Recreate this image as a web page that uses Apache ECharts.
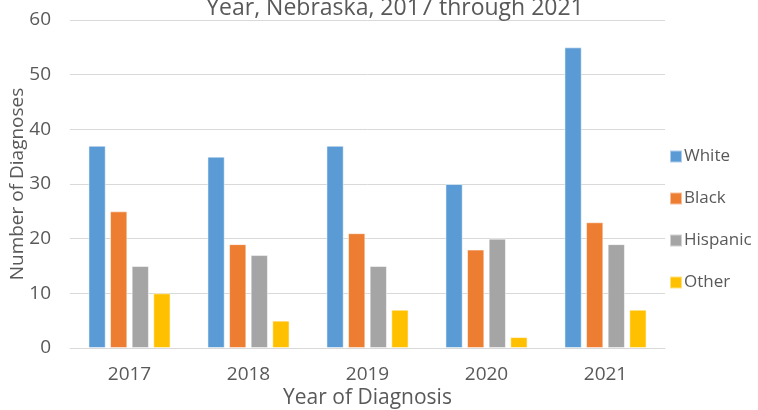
<!DOCTYPE html>
<html><head><meta charset="utf-8">
<script src="https://cdn.jsdelivr.net/npm/echarts@6/dist/echarts.min.js"></script>
<style>html,body{margin:0;padding:0;background:#fff}#c{width:758px;height:410px}</style>
</head><body><div id="c"></div>
<script>
const categories = ['2017','2018','2019','2020','2021'];
const white = [37,35,37,30,55];
const black = [25,19,21,18,23];
const hispanic = [15,17,15,20,19];
const other = [10,5,7,2,7];
const seriesNames = ['White','Black','Hispanic','Other'];
const colors = ['#5B9BD5','#ED7D31','#A5A5A5','#FFC000'];
const font = 'Open Sans';
const chart = echarts.init(document.getElementById('c'));
const data = [white, black, hispanic, other];
chart.setOption({
  animation:false,
  title:{text:'Year, Nebraska, 2017 through 2021', left:390, top:-8, textAlign:'center',
    textStyle:{fontFamily:font,fontSize:23,fontWeight:'normal',color:'#595959'}},
  grid:{left:70,right:93,top:20,bottom:62,containLabel:false,outerBoundsMode:'none'},
  legend:{orient:'vertical',left:664,top:143,itemWidth:12,itemHeight:12,itemGap:25,
    icon:'rect',textStyle:{fontFamily:font,fontSize:17,color:'#595959',padding:[0,0,0,-3]},
    data:seriesNames},
  xAxis:{type:'category',data:categories,
    name:'Year of Diagnosis',nameLocation:'middle',nameGap:40,nameMoveOverlap:false,
    nameTextStyle:{fontFamily:font,fontSize:21,color:'#595959'},
    axisLine:{lineStyle:{color:'#D9D9D9'}},axisTick:{show:false},
    axisLabel:{fontFamily:font,fontSize:19,color:'#595959',margin:17}},
  yAxis:{type:'value',min:0,max:60,interval:10,
    name:'Number of Diagnoses',nameLocation:'middle',nameGap:43,nameMoveOverlap:false,
    nameTextStyle:{fontFamily:font,fontSize:19,color:'#595959'},
    axisLabel:{fontFamily:font,fontSize:19,color:'#595959',margin:19},
    splitLine:{lineStyle:{color:'#D9D9D9'}},axisLine:{show:false},axisTick:{show:false}},
  series: seriesNames.map((n,i)=>({name:n,type:'bar',data:data[i],
    barGap:'25%',barCategoryGap:'31%',
    itemStyle:{color:colors[i],borderColor:'rgba(255,255,255,0.5)',borderWidth:1}}))
});
</script></body></html>
